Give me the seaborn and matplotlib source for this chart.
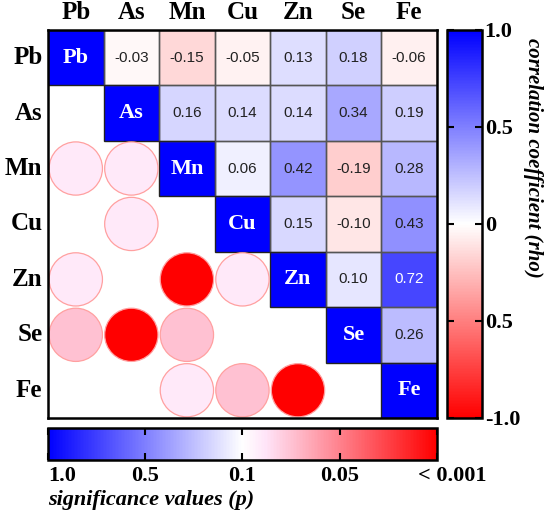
import numpy as np
import pandas as pd
import seaborn as sns
import matplotlib
matplotlib.use("Agg")
import matplotlib.pyplot as plt
import matplotlib.transforms as mtransforms
from matplotlib.colors import LinearSegmentedColormap, Normalize
from matplotlib.cm import ScalarMappable
from matplotlib.patches import Circle, Rectangle

# data
elements = ["Pb", "As", "Mn", "Cu", "Zn", "Se", "Fe"]
rho_upper = [
    [-0.03, -0.15, -0.05, 0.13, 0.18, -0.06],
    [0.16, 0.14, 0.14, 0.34, 0.19],
    [0.06, 0.42, -0.19, 0.28],
    [0.15, -0.10, 0.43],
    [0.10, 0.72],
    [0.26],
]
# significance circles in lower triangle
sig_rows = ["Mn", "Mn", "Cu", "Zn", "Zn", "Zn", "Se", "Se", "Se", "Fe", "Fe", "Fe"]
sig_cols = ["Pb", "As", "As", "Pb", "Mn", "Cu", "Pb", "As", "Mn", "Mn", "Cu", "Zn"]
sig_p = [0.09, 0.09, 0.09, 0.09, 0.0005, 0.09, 0.075, 0.0005, 0.075, 0.09, 0.075, 0.0005]
p_ticks = [1.0, 0.5, 0.1, 0.05, 0.001]
p_ticklabels = ["1.0", "0.5", "0.1", "0.05", "< 0.001"]
rho_ticks = [1.0, 0.5, 0.0, -0.5, -1.0]
rho_ticklabels = ["1.0", "0.5", "0", "0.5", "-1.0"]

n = len(elements)
mat = np.full((n, n), np.nan)
for i in range(n):
    mat[i, i] = 1.0
    for k, v in enumerate(rho_upper[i] if i < len(rho_upper) else []):
        mat[i, i + 1 + k] = v
df = pd.DataFrame(mat, index=elements, columns=elements)
mask = np.tril(np.ones((n, n), dtype=bool), k=-1)
annot = np.where(np.triu(np.ones((n, n), dtype=bool), k=1),
                 df.map(lambda v: f"{v:.2f}").values, "")

serif = "Liberation Serif"
sans = "Liberation Sans"

rho_cmap = LinearSegmentedColormap.from_list("rho", ["#ff0000", "#ffffff", "#0000ff"])
p_cmap = LinearSegmentedColormap.from_list(
    "pval", [(0, "#0000ff"), (0.5, "#ffffff"), (0.56, "#ffe4f8"), (1, "#ff0000")])

fig = plt.figure(figsize=(5.5, 5.14), dpi=100)
ax = fig.add_axes([0.0873, 0.1868, 0.707, 0.755])
cax = fig.add_axes([0.8127, 0.1868, 0.0636, 0.755])
bax = fig.add_axes([0.0873, 0.105, 0.707, 0.0623])

sns.heatmap(df, mask=mask, cmap=rho_cmap, vmin=-1, vmax=1, annot=annot, fmt="",
            annot_kws={"fontsize": 11, "fontfamily": sans},
            linewidths=0, cbar_ax=cax, ax=ax,
            cbar_kws={"ticks": rho_ticks})

for t in ax.texts:
    txt = t.get_text()
    if txt:
        t.set_color("white" if float(txt) > 0.6 else "#222222")

# cell borders only on the upper triangle + diagonal
for i in range(n):
    for j in range(i, n):
        ax.add_patch(Rectangle((j, i), 1, 1, fill=False,
                               edgecolor="#222222" if i == j else "#555555",
                               lw=1, zorder=3))
    ax.text(i + 0.5, i + 0.5, elements[i], ha="center", va="center", color="white",
            fontsize=16, fontweight="bold", fontfamily=serif, zorder=4)

# p-value scale: piecewise on tick anchors
def p_pos(p):
    return np.interp(p, p_ticks[::-1], [1.0, 0.75, 0.5, 0.25, 0.0])

pos_idx = {el: i for i, el in enumerate(elements)}
for r, c, p in zip(sig_rows, sig_cols, sig_p):
    col = p_cmap(p_pos(p))
    ax.add_patch(Circle((pos_idx[c] + 0.5, pos_idx[r] + 0.5), 0.48,
                        facecolor=col, edgecolor="#ffa0a0", lw=0.9, zorder=5))

ax.xaxis.tick_top()
ax.tick_params(length=0, pad=4)
ax.set_xticklabels(elements, rotation=0, fontsize=18, fontweight="bold", fontfamily=serif)
ax.set_yticklabels(elements, rotation=0, fontsize=18, fontweight="bold", fontfamily=serif)
ax.set_xlabel("")
ax.set_ylabel("")
for s in ax.spines.values():
    s.set_visible(True)
    s.set_linewidth(1.8)
    s.set_color("black")
    s.set_zorder(6)

# right colorbar
cb = ax.collections[0].colorbar
cb.set_ticks(rho_ticks)
cb.set_ticklabels(rho_ticklabels)
cb.outline.set_linewidth(1.8)
cax.tick_params(direction="in", left=True, right=True, length=5, width=1.5, pad=2)
for lab in cax.get_yticklabels():
    lab.set_fontfamily(serif)
    lab.set_fontweight("bold")
    lab.set_fontsize(16)
cax.set_ylabel("correlation coefficient (rho)", rotation=270, fontsize=15,
               fontstyle="italic", fontweight="bold", fontfamily=serif,
               ha="center", va="center")
cax.yaxis.set_label_coords(2.45, 0.67)

# bottom colorbar
bcb = fig.colorbar(ScalarMappable(norm=Normalize(0, 1), cmap=p_cmap), cax=bax,
                   orientation="horizontal")
bcb.set_ticks([p_pos(p) for p in p_ticks])
bcb.set_ticklabels(p_ticklabels)
bcb.outline.set_linewidth(1.8)
bax.tick_params(direction="in", top=True, bottom=True, length=5, width=1.5, pad=4)
blabels = bax.get_xticklabels()
for lab in blabels:
    lab.set_fontfamily(serif)
    lab.set_fontweight("bold")
    lab.set_fontsize(16)
blabels[0].set_horizontalalignment("left")
blabels[-1].set_transform(blabels[-1].get_transform()
                          + mtransforms.ScaledTranslation(0.15, 0, fig.dpi_scale_trans))
bax.set_xlabel("significance values (p)", loc="left", fontsize=16, fontstyle="italic",
               fontweight="bold", fontfamily=serif, labelpad=3)

fig.savefig("out.png", dpi=100)
